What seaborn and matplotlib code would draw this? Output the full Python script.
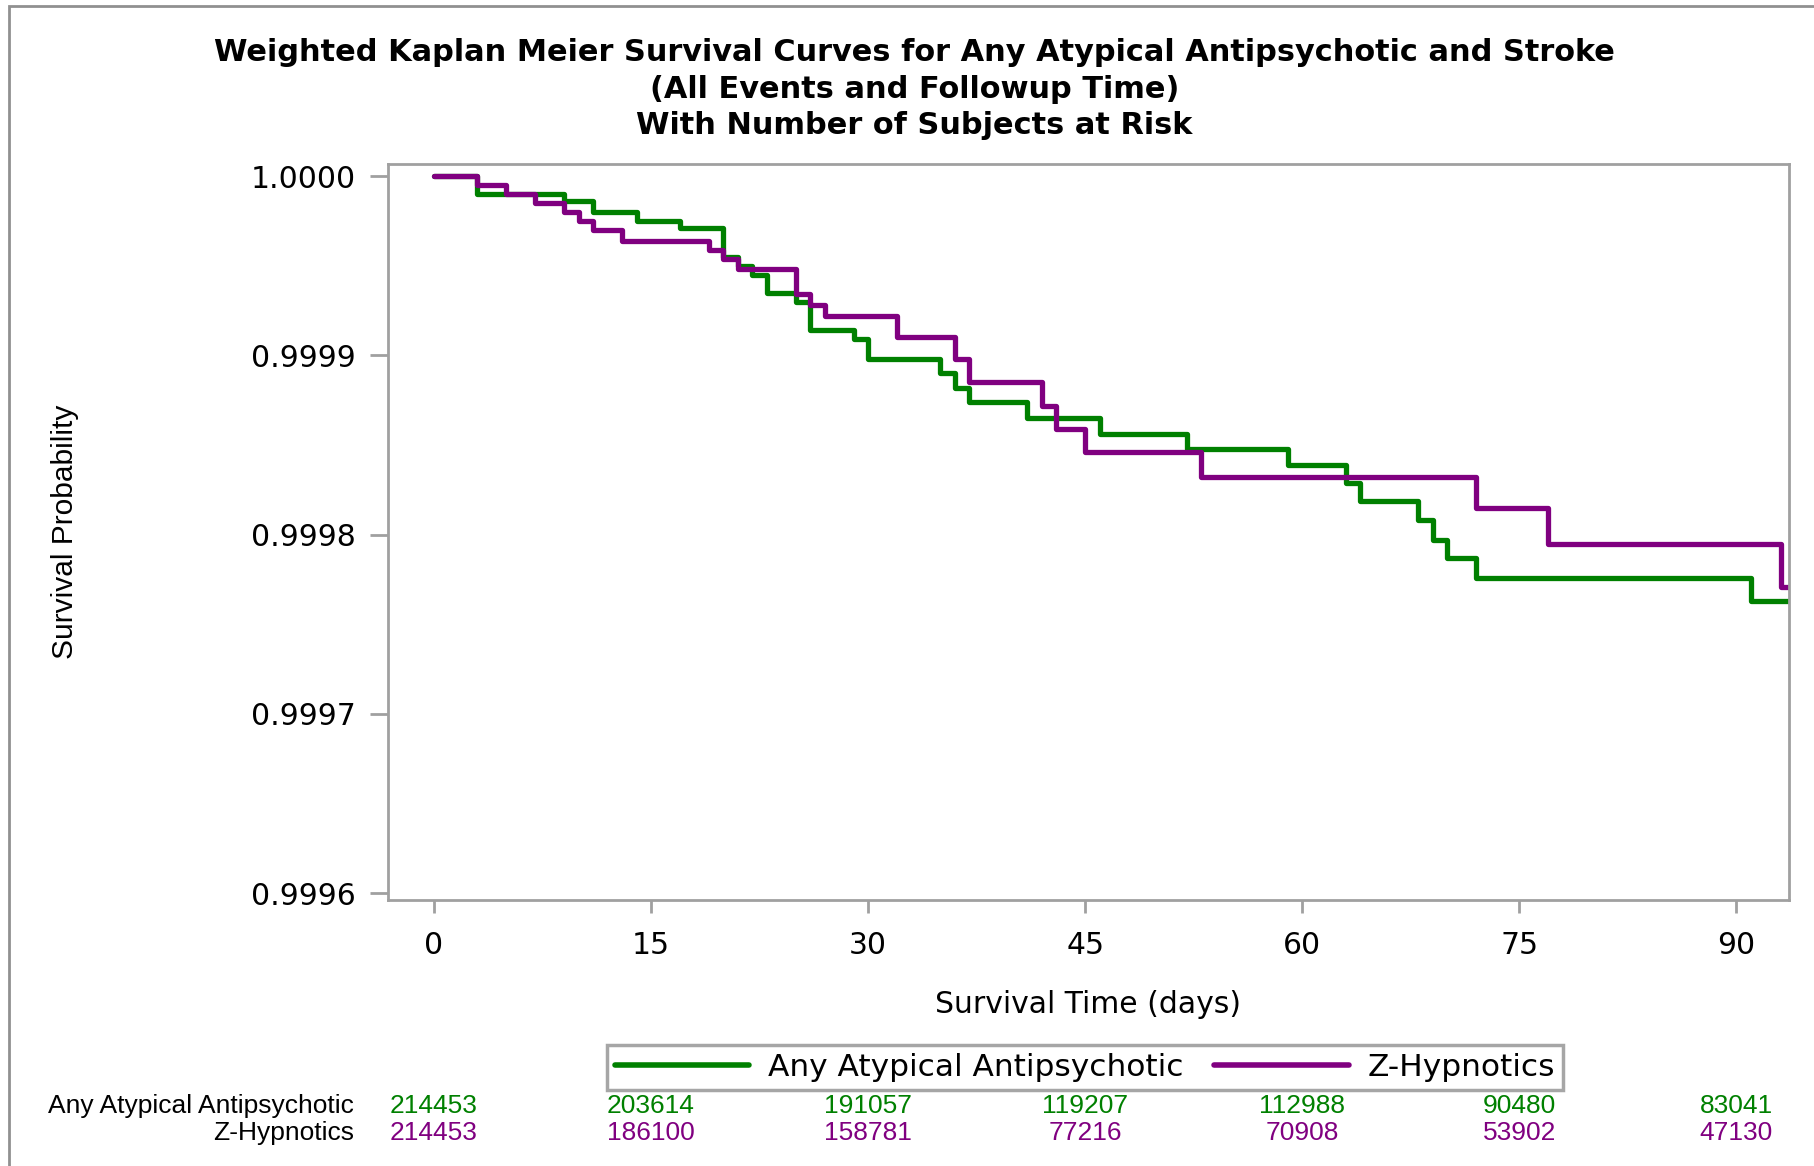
import matplotlib
matplotlib.use("Agg")
import matplotlib.pyplot as plt
import matplotlib.transforms as mtransforms
from matplotlib.patches import Rectangle
from matplotlib.lines import Line2D
import seaborn as sns
import pandas as pd

sns.set_style("white")
plt.rcParams['font.family'] = ['DejaVu Sans']
plt.rcParams['text.color'] = 'black'
plt.rcParams['axes.labelcolor'] = 'black'
plt.rcParams['xtick.color'] = 'black'
plt.rcParams['ytick.color'] = 'black'

# step times (days) and survival estimates
aap_time = [0, 3, 9, 11, 14, 17, 20, 21, 22, 23, 25, 26, 29, 30, 35, 36, 37,
            41, 46, 52, 59, 63, 64, 68, 69, 70, 72, 91, 93.6]
aap_surv = [1.0, 0.999990, 0.999986, 0.999980, 0.999975, 0.999971, 0.999955,
            0.999950, 0.999945, 0.999935, 0.999930, 0.999914, 0.999909,
            0.999898, 0.999890, 0.999882, 0.999874, 0.999865, 0.999856,
            0.999848, 0.999839, 0.999829, 0.999819, 0.999808, 0.999797,
            0.999787, 0.999776, 0.999763, 0.999763]
zh_time = [0, 3, 5, 7, 9, 10, 11, 13, 19, 20, 21, 25, 26, 27, 32, 36, 37,
           42, 43, 45, 53, 72, 77, 93.1, 93.6]
zh_surv = [1.0, 0.999995, 0.999990, 0.999985, 0.999980, 0.999975, 0.999970,
           0.999964, 0.999959, 0.999954, 0.999948, 0.999934, 0.999928,
           0.999922, 0.999910, 0.999898, 0.999885, 0.999872, 0.999859,
           0.999846, 0.999832, 0.999815, 0.999795, 0.999771, 0.999771]

groups = ["Any Atypical Antipsychotic", "Z-Hypnotics"]
colors = {"Any Atypical Antipsychotic": "#008000", "Z-Hypnotics": "#800080"}

risk_times = [0, 15, 30, 45, 60, 75, 90]
aap_risk = [214453, 203614, 191057, 119207, 112988, 90480, 83041]
zh_risk = [214453, 186100, 158781, 77216, 70908, 53902, 47130]

df = pd.concat([
    pd.DataFrame({"time": aap_time, "surv": aap_surv, "group": groups[0]}),
    pd.DataFrame({"time": zh_time, "surv": zh_surv, "group": groups[1]}),
])

fig = plt.figure(figsize=(18.14, 11.66), dpi=100)
ax = fig.add_axes([0.2139, 0.228, 0.986 - 0.2139, 0.859 - 0.228])

sns.lineplot(data=df, x="time", y="surv", hue="group", palette=colors,
             estimator=None, drawstyle="steps-post", lw=3.8, ax=ax,
             legend=False, sort=False)

ax.set_xlim(-3.17, 93.6)
ax.set_ylim(0.99959613, 1.0000065)
ax.set_xticks(risk_times)
ax.set_yticks([0.9996, 0.9997, 0.9998, 0.9999, 1.0])
ax.yaxis.set_major_formatter(matplotlib.ticker.FormatStrFormatter("%.4f"))
ax.tick_params(axis="both", which="major", direction="out", width=2,
               color="#a0a0a0", labelsize=21.5, bottom=True, left=True)
ax.tick_params(axis="y", length=13, pad=10)
ax.tick_params(axis="x", length=9, pad=13)
for sp in ax.spines.values():
    sp.set_color("#a0a0a0")
    sp.set_linewidth(2)
ax.set_xlabel("Survival Time (days)", fontsize=21.5, labelpad=22)
ax.set_ylabel("")
fig.text(0.036, 0.544, "Survival Probability", rotation=90, ha="center",
         va="center", fontsize=21.5, family="Liberation Sans")

# titles
fig.text(0.504, 0.955, "Weighted Kaplan Meier Survival Curves for Any Atypical Antipsychotic and Stroke",
         ha="center", va="center", fontsize=21.9, fontweight="bold")
fig.text(0.504, 0.923, "(All Events and Followup Time)",
         ha="center", va="center", fontsize=21.9, fontweight="bold")
fig.text(0.504, 0.892, "With Number of Subjects at Risk",
         ha="center", va="center", fontsize=21.9, fontweight="bold")

# legend
handles = [Line2D([], [], color=colors[g], lw=4) for g in groups]
leg = fig.legend(handles, groups, loc="center", bbox_to_anchor=(0.598, 0.0845),
                 ncol=2, fontsize=22.5, frameon=True, fancybox=False,
                 handlelength=4.3, columnspacing=1.0, handletextpad=0.6,
                 borderpad=0.25, borderaxespad=0)
leg.get_frame().set_edgecolor("#909090")
leg.get_frame().set_linewidth(2.5)

# number at risk table
trans = mtransforms.blended_transform_factory(ax.transData, fig.transFigure)
for row_y, label, vals, g in [(0.0514, groups[0], aap_risk, groups[0]),
                              (0.0287, groups[1], zh_risk, groups[1])]:
    fig.text(0.195, row_y, label, ha="right", va="center", fontsize=19,
             family="Liberation Sans")
    for t, v in zip(risk_times, vals):
        ax.text(t, row_y, str(v), transform=trans, ha="center", va="center",
                fontsize=19, color=colors[g], family="Liberation Sans")

# outer frame
fig.patches.append(Rectangle((9 / 1814, -0.1), 1.2, 0.9949 + 0.1,
                             transform=fig.transFigure, fill=False,
                             edgecolor="#909090", lw=2))

fig.savefig("out.png", dpi=100)
